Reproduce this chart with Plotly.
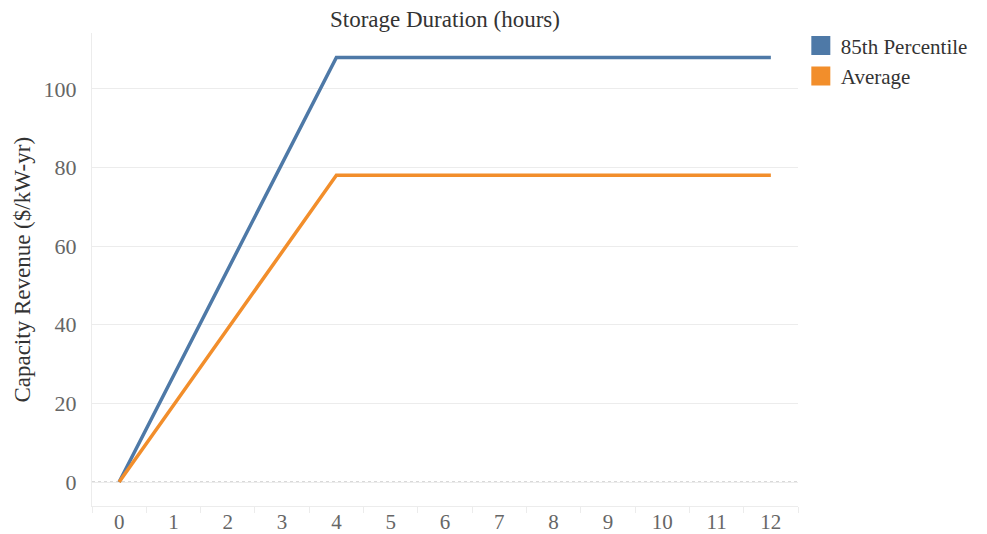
import plotly.graph_objects as go

# Storage duration (hours) and capacity revenue ($/kW-yr)
hours = list(range(0, 13))
pct85 = [0, 27, 54, 81, 108, 108, 108, 108, 108, 108, 108, 108, 108]
average = [0, 19.5, 39, 58.5, 78, 78, 78, 78, 78, 78, 78, 78, 78]
series_names = ["85th Percentile", "Average"]
series_colors = ["#4e79a7", "#f28e2b"]
x_ticks = list(range(0, 13))
y_ticks = [0, 20, 40, 60, 80, 100]

FONT = "Liberation Serif, DejaVu Serif, serif"
GRID = "#ececec"
TEXT = "#333333"
TICK = "#666666"

fig = go.Figure()
for name, vals, color in zip(series_names, [pct85, average], series_colors):
    fig.add_trace(go.Scatter(
        x=hours, y=vals, mode="lines", name=name,
        line=dict(color=color, width=3.5), showlegend=False,
        hoverinfo="x+y+name"))
# legend swatches (outline in the same colour to enlarge the square)
for name, color in zip(series_names, series_colors):
    fig.add_trace(go.Scatter(
        x=[None], y=[None], mode="markers", name=name,
        marker=dict(symbol="square", size=20, color=color,
                    line=dict(color=color, width=3))))

fig.update_layout(
    width=987, height=534,
    margin=dict(l=92, r=189, t=33, b=28, autoexpand=False),
    paper_bgcolor="white", plot_bgcolor="white",
    font=dict(family=FONT, color=TEXT),
    legend=dict(x=1.004, y=1.016, xanchor="left", yanchor="top",
                font=dict(family=FONT, size=21, color=TEXT),
                itemsizing="trace", tracegroupgap=0, itemwidth=30),
    annotations=[
        dict(text="Storage Duration (hours)", xref="paper", yref="paper",
             x=0.5, y=1.0, yshift=-1, xanchor="center", yanchor="bottom",
             showarrow=False, font=dict(family=FONT, size=23, color=TEXT)),
        dict(text="Capacity Revenue ($/kW-yr)", xref="paper", yref="paper",
             x=-0.099, y=0.5, xanchor="center", yanchor="middle", textangle=-90,
             showarrow=False, font=dict(family=FONT, size=23, color=TEXT)),
    ],
)

fig.update_xaxes(
    range=[-0.5, 12.5], tickvals=x_ticks, ticktext=[str(v) for v in x_ticks],
    automargin=False,
    showgrid=False, zeroline=False, showline=True, linecolor=GRID, linewidth=1,
    ticks="", tickfont=dict(family=FONT, size=21, color=TICK),
    ticklabelstandoff=-3,
    minor=dict(tickvals=[v + 0.5 for v in range(-1, 13)], ticks="outside",
               ticklen=6, tickcolor=GRID, showgrid=False),
)
fig.update_yaxes(
    range=[-6.1, 114.2], tickvals=y_ticks, ticktext=[str(v) for v in y_ticks],
    automargin=False,
    showgrid=True, gridcolor=GRID, gridwidth=1, zeroline=False,
    showline=True, linecolor=GRID, linewidth=1, ticks="",
    tickfont=dict(family=FONT, size=22, color=TICK), ticklabelstandoff=10,
)
# dotted zero reference line
fig.add_hline(y=0, line=dict(color="#b0b0b0", width=1, dash="dot"), layer="below")

fig.write_html("out.html")
